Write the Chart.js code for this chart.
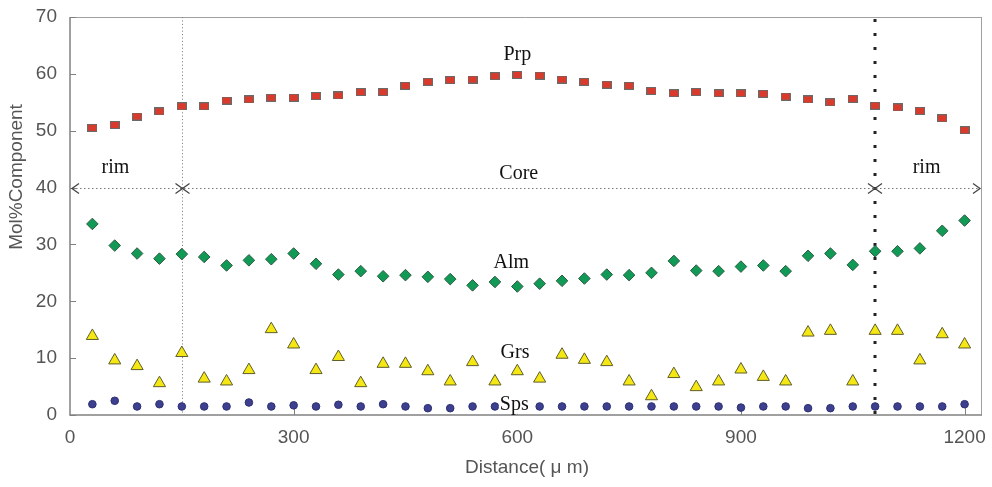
<!DOCTYPE html>
<html>
<head>
<meta charset="utf-8">
<script src="https://cdn.jsdelivr.net/npm/chart.js@4.4.1/dist/chart.umd.min.js"></script>
<style>
  html, body { margin: 0; padding: 0; background: #fff; }
</style>
</head>
<body>
<canvas id="profileChart" width="992" height="487"></canvas>
<script>
// Garnet zoning profile, mol% end-members along the traverse
const distance = [30, 60, 90, 120, 150, 180, 210, 240, 270, 300, 330, 360, 390, 420, 450, 480, 510, 540, 570, 600,
  630, 660, 690, 720, 750, 780, 810, 840, 870, 900, 930, 960, 990, 1020, 1050, 1080, 1110, 1140, 1170, 1200];
const prp = [50.5, 51.0, 52.5, 53.4, 54.3, 54.3, 55.3, 55.5, 55.8, 55.8, 56.1, 56.2, 56.8, 56.8, 57.9, 58.6, 58.9, 59.0, 59.6, 59.8,
  59.7, 59.0, 58.6, 58.1, 57.9, 57.0, 56.6, 56.8, 56.6, 56.6, 56.5, 56.0, 55.5, 55.0, 55.6, 54.4, 54.1, 53.5, 52.2, 50.1];
const alm = [33.6, 29.8, 28.4, 27.5, 28.3, 27.8, 26.3, 27.2, 27.4, 28.4, 26.6, 24.7, 25.3, 24.4, 24.6, 24.3, 23.9, 22.8, 23.4, 22.6,
  23.1, 23.6, 24.0, 24.7, 24.6, 25.0, 27.1, 25.4, 25.3, 26.1, 26.3, 25.3, 28.0, 28.4, 26.4, 28.8, 28.8, 29.3, 32.4, 34.2];
const grs = [13.9, 9.6, 8.6, 5.6, 10.9, 6.4, 5.9, 7.9, 15.1, 12.4, 7.9, 10.2, 5.6, 9.0, 9.0, 7.7, 5.9, 9.3, 5.9, 7.7,
  6.4, 10.6, 9.7, 9.3, 5.9, 3.3, 7.2, 4.9, 5.9, 8.0, 6.7, 5.9, 14.5, 14.8, 5.9, 14.8, 14.8, 9.6, 14.2, 12.4];
const sps = [1.9, 2.5, 1.5, 1.9, 1.5, 1.5, 1.5, 2.2, 1.5, 1.7, 1.5, 1.8, 1.5, 1.9, 1.5, 1.2, 1.2, 1.5, 1.5, 1.5,
  1.5, 1.5, 1.5, 1.5, 1.5, 1.5, 1.5, 1.5, 1.5, 1.3, 1.5, 1.5, 1.2, 1.2, 1.5, 1.5, 1.5, 1.5, 1.5, 1.9];

const xTicks = [0, 300, 600, 900, 1200];
const yTicks = [0, 10, 20, 30, 40, 50, 60, 70];

// rim / core boundaries and the level of the zone arrow
const rimCore = [150, 1080];
const zoneLevel = 40;

// text placed in data units (x, baseline y)
const notes = [
  { text: 'Prp', x: 600, y: 62.4 },
  { text: 'Alm', x: 592, y: 25.9 },
  { text: 'Grs', x: 597, y: 10.0 },
  { text: 'Sps', x: 596, y: 0.9, box: true },
  { text: 'rim', x: 61, y: 42.6 },
  { text: 'Core', x: 602, y: 41.5 },
  { text: 'rim', x: 1149, y: 42.6 }
];

function toPoints(ys) {
  return distance.map((d, i) => ({ x: d, y: ys[i] }));
}

// small red rectangle marker like the original
const prpMarker = document.createElement('canvas');
prpMarker.width = 10;
prpMarker.height = 8;
(function () {
  const c = prpMarker.getContext('2d');
  c.fillStyle = '#d93a2b';
  c.fillRect(1, 1, 8, 6);
  c.strokeStyle = '#6a6a6a';
  c.lineWidth = 1;
  c.strokeRect(0.5, 0.5, 9, 7);
})();

function line(ctx, x1, y1, x2, y2) {
  ctx.beginPath();
  ctx.moveTo(x1, y1);
  ctx.lineTo(x2, y2);
  ctx.stroke();
}

function arrowHead(ctx, tipX, y, dir) {
  ctx.beginPath();
  ctx.moveTo(tipX - dir * 7, y - 5);
  ctx.lineTo(tipX, y);
  ctx.lineTo(tipX - dir * 7, y + 5);
  ctx.stroke();
}

const overlay = {
  id: 'overlay',
  beforeDatasetsDraw(chart) {
    const { ctx, chartArea: a, scales: { x, y } } = chart;
    ctx.save();

    // frame
    ctx.strokeStyle = '#a0a0a0';
    ctx.lineWidth = 1;
    line(ctx, a.left, a.top + 0.5, a.right + 0.5, a.top + 0.5);
    line(ctx, a.right + 0.5, a.top, a.right + 0.5, a.bottom);
    ctx.strokeStyle = '#808080';
    ctx.lineWidth = 1.5;
    line(ctx, a.left, a.top, a.left, a.bottom + 0.75);
    line(ctx, a.left, a.bottom, a.right + 1, a.bottom);

    // inner tick marks
    ctx.lineWidth = 1;
    yTicks.forEach(v => {
      const py = Math.round(y.getPixelForValue(v)) + 0.5;
      line(ctx, a.left, py, a.left + 6, py);
    });
    xTicks.slice(1).forEach(v => {
      const px = Math.round(x.getPixelForValue(v)) + 0.5;
      line(ctx, px, a.bottom, px, a.bottom - 7);
    });

    // thin dotted line at the inner rim boundary
    const p1 = Math.round(x.getPixelForValue(rimCore[0])) + 0.5;
    ctx.strokeStyle = '#8a8a8a';
    ctx.setLineDash([1.2, 2.2]);
    line(ctx, p1, a.top, p1, a.bottom);

    // heavy dotted line at the outer boundary
    const p2 = Math.round(x.getPixelForValue(rimCore[1]));
    ctx.strokeStyle = '#222';
    ctx.lineWidth = 3;
    ctx.setLineDash([3, 11]);
    line(ctx, p2, a.top + 2, p2, a.bottom);

    // zone arrow
    const py = Math.round(y.getPixelForValue(zoneLevel)) + 0.5;
    ctx.strokeStyle = '#777';
    ctx.lineWidth = 1;
    ctx.setLineDash([1.5, 2.5]);
    line(ctx, a.left + 2, py, a.right - 2, py);
    ctx.setLineDash([]);
    ctx.strokeStyle = '#444';
    ctx.lineWidth = 1.3;
    arrowHead(ctx, a.left + 2, py, -1);
    arrowHead(ctx, p1, py, 1);
    arrowHead(ctx, p1, py, -1);
    arrowHead(ctx, p2, py, 1);
    arrowHead(ctx, p2, py, -1);
    arrowHead(ctx, a.right - 1, py, 1);

    ctx.restore();
  },
  afterDatasetsDraw(chart) {
    const { ctx, scales: { x, y } } = chart;
    ctx.save();
    ctx.font = '20px "Liberation Serif", "Times New Roman", serif';
    ctx.textAlign = 'center';
    ctx.textBaseline = 'alphabetic';
    notes.forEach(n => {
      const px = x.getPixelForValue(n.x);
      const py = y.getPixelForValue(n.y);
      if (n.box) {
        const w = ctx.measureText(n.text).width;
        ctx.fillStyle = '#fff';
        ctx.fillRect(px - w / 2 - 1, py - 14, w + 2, 18);
      }
      ctx.fillStyle = '#111';
      ctx.fillText(n.text, px, py);
    });

    // axis titles
    ctx.font = '19px "Liberation Sans", Arial, sans-serif';
    ctx.fillStyle = '#555';
    ctx.textBaseline = 'middle';
    ctx.fillText('Distance( \u03bc m)', 527, 468);
    ctx.translate(17, 177);
    ctx.rotate(-Math.PI / 2);
    ctx.fillText('Mol%Component', 0, 0);
    ctx.restore();
  }
};

const tickFont = { family: '"Liberation Sans", Arial, sans-serif', size: 19 };

new Chart(document.getElementById('profileChart').getContext('2d'), {
  type: 'scatter',
  data: {
    datasets: [
      {
        label: 'Prp',
        data: toPoints(prp),
        pointStyle: prpMarker
      },
      {
        label: 'Alm',
        data: toPoints(alm),
        pointStyle: 'rectRot',
        pointRadius: 5.8,
        backgroundColor: '#109a56',
        borderColor: '#2e5c43',
        borderWidth: 1
      },
      {
        label: 'Grs',
        data: toPoints(grs),
        pointStyle: 'triangle',
        pointRadius: 7,
        backgroundColor: '#f4e713',
        borderColor: '#5f5e2c',
        borderWidth: 1
      },
      {
        label: 'Sps',
        data: toPoints(sps),
        pointStyle: 'circle',
        pointRadius: 3.8,
        backgroundColor: '#3d3f8f',
        borderColor: '#2d2f70',
        borderWidth: 1
      }
    ]
  },
  options: {
    responsive: false,
    animation: false,
    devicePixelRatio: 1,
    events: [],
    layout: { padding: { top: 17, right: 11, left: 0, bottom: 0 } },
    plugins: {
      legend: { display: false },
      tooltip: { enabled: false }
    },
    scales: {
      x: {
        type: 'linear',
        min: 0,
        max: 1222,
        afterBuildTicks: s => { s.ticks = xTicks.map(v => ({ value: v })); },
        afterFit: s => { s.height = 72; s.paddingLeft = 0; s.paddingRight = 0; },
        grid: { display: false, drawTicks: false },
        border: { display: false },
        ticks: {
          font: tickFont, color: '#555', padding: 11, maxRotation: 0, autoSkip: false,
          callback: v => String(v)
        }
      },
      y: {
        min: 0,
        max: 70,
        afterBuildTicks: s => { s.ticks = yTicks.map(v => ({ value: v })); },
        afterFit: s => { s.width = 70; s.paddingTop = 0; s.paddingBottom = 0; },
        grid: { display: false, drawTicks: false },
        border: { display: false },
        ticks: { font: tickFont, color: '#555', padding: 13 }
      }
    }
  },
  plugins: [overlay]
});
</script>
</body>
</html>
